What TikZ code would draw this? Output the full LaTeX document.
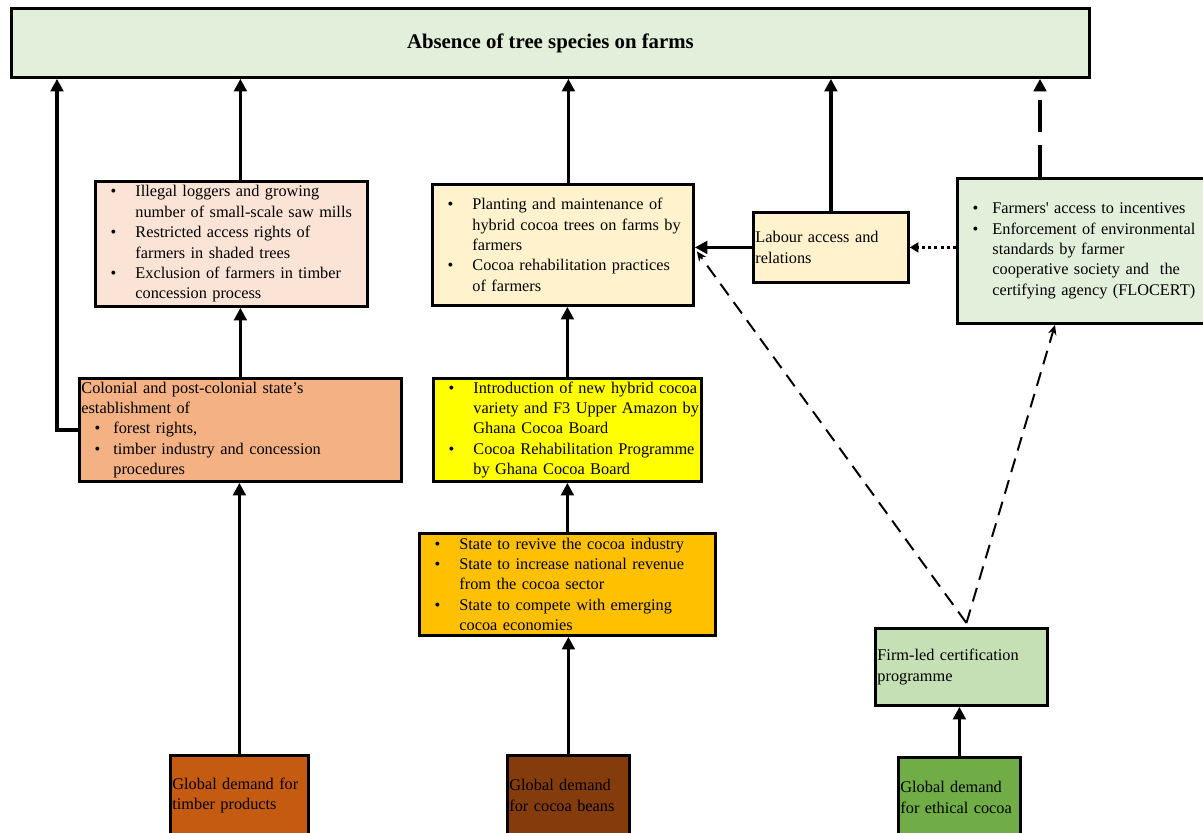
\documentclass[tikz,border=0pt]{standalone}
\usepackage{fontspec}
\setmainfont{Liberation Serif}
\usetikzlibrary{positioning, arrows.meta, calc}
\definecolor{goalgreen}{HTML}{E2EFDA}
\definecolor{timberpeach}{HTML}{FBE4D5}
\definecolor{timbersalmon}{HTML}{F4B183}
\definecolor{timberrust}{HTML}{C55A11}
\definecolor{cocoacream}{HTML}{FFF2CC}
\definecolor{cocoayellow}{HTML}{FFFF00}
\definecolor{cocoaamber}{HTML}{FFC000}
\definecolor{cocoabrown}{HTML}{843C0C}
\definecolor{certgreen}{HTML}{C5E0B4}
\definecolor{ethicgreen}{HTML}{70AD47}
% bullet line and continuation line
\newcommand{\bl}[2][0.95cm]{\makebox[#1][l]{\hspace{0.33cm}\textbullet}\mbox{#2}}
\newcommand{\cl}[2][0.95cm]{\hspace*{#1}\mbox{#2}}
\tikzset{
    box/.style={rectangle, draw=black, line width=2pt, anchor=north west, inner xsep=0.05cm, inner ysep=0pt, align=left, font=\fontsize{11.6}{14.5}\selectfont},
    arr/.style={-{Triangle[length=9pt, width=9pt]}, line width=2.6pt},
    arrdash/.style={-{Triangle[length=9pt, width=9pt]}, line width=2.6pt, dash pattern=on 23pt off 9pt},
    arrdot/.style={-{Triangle[length=6pt, width=7pt]}, line width=2.4pt, dash pattern=on 2.2pt off 2.2pt},
    arrcert/.style={-{Stealth[length=7pt, width=6pt]}, line width=1.4pt, dash pattern=on 10pt off 6pt}
}
\begin{document}
\begin{tikzpicture}
    \useasboundingbox (0,0) rectangle (30.075,-20.8);

    % Outcome
    \node[box, fill=goalgreen, minimum width=26.95cm, minimum height=1.725cm, align=center, font=\fontsize{14.8}{17}\selectfont\bfseries] (absence) at (0.25,-0.175) {Absence of tree species on farms};

    % Timber pathway
    \node[box, fill=timberpeach, minimum width=6.8cm, minimum height=3.125cm, text width=6.7cm] (loggers) at (2.35,-4.5) {%
        \bl{Illegal loggers and growing}\\
        \cl{number of small-scale saw mills}\\
        \bl{Restricted access rights of}\\
        \cl{farmers in shaded trees}\\
        \bl{Exclusion of farmers in timber}\\
        \cl{concession process}};
    \node[box, fill=timbersalmon, minimum width=8.05cm, minimum height=2.575cm, text width=7.95cm] (colonial) at (1.95,-9.425) {%
        \mbox{Colonial and post-colonial state’s}\\
        \mbox{establishment of}\\
        \bl[0.8cm]{forest rights,}\\
        \bl[0.8cm]{timber industry and concession}\\
        \cl[0.8cm]{procedures}};
    \node[box, fill=timberrust, minimum width=3.45cm, minimum height=2cm, text width=3.35cm] (timberdemand) at (4.225,-18.85) {Global demand for\\timber products};

    % Cocoa pathway
    \node[box, fill=cocoacream, minimum width=6.525cm, minimum height=3.025cm, text width=6.425cm] (planting) at (10.775,-4.575) {%
        \bl{Planting and maintenance of}\\
        \cl{hybrid cocoa trees on farms by}\\
        \cl{farmers}\\
        \bl{Cocoa rehabilitation practices}\\
        \cl{of farmers}};
    \node[box, fill=cocoayellow, minimum width=6.7cm, minimum height=2.575cm, text width=6.6cm] (intro) at (10.8,-9.425) {%
        \bl{Introduction of new hybrid cocoa}\\
        \cl{variety and F3 Upper Amazon by}\\
        \cl{Ghana Cocoa Board}\\
        \bl{Cocoa Rehabilitation Programme}\\
        \cl{by Ghana Cocoa Board}};
    \node[box, fill=cocoaamber, minimum width=7.4cm, minimum height=2.55cm, text width=7.3cm] (statebox) at (10.45,-13.3) {%
        \bl{State to revive the cocoa industry}\\
        \bl{State to increase national revenue}\\
        \cl{from the cocoa sector}\\
        \bl{State to compete with emerging}\\
        \cl{cocoa economies}};
    \node[box, fill=cocoabrown, minimum width=3.05cm, minimum height=2cm, text width=2.95cm] (cocoademand) at (12.65,-18.85) {Global demand\\for cocoa beans};

    % Certification pathway
    \node[box, fill=cocoacream, minimum width=3.875cm, minimum height=1.75cm, text width=3.775cm] (labour) at (18.8,-5.275) {Labour access and\\relations};
    \node[box, fill=goalgreen, minimum width=6.175cm, minimum height=3.625cm, text width=6.075cm] (incent) at (23.9,-4.425) {%
        \bl[0.825cm]{Farmers\textquotesingle{} access to incentives}\\
        \bl[0.825cm]{Enforcement of environmental}\\
        \cl[0.825cm]{standards by farmer}\\
        \cl[0.825cm]{cooperative society and \ the}\\
        \cl[0.825cm]{certifying agency (FLOCERT)}};
    \node[box, fill=certgreen, minimum width=4.3cm, minimum height=1.925cm, text width=4.2cm] (firm) at (21.85,-15.675) {Firm-led certification\\programme};
    \node[box, fill=ethicgreen, minimum width=3.05cm, minimum height=2cm, text width=2.95cm] (ethicdemand) at (22.425,-18.9) {Global demand\\for ethical cocoa};

    % Connectors
    \coordinate (leftin) at ($(absence.south west)+(1.175,0)$);
    \coordinate (dashout) at ($(incent.north west)+(2.1,0)$);
    \coordinate (firmtop) at ($(firm.north)+(0.125,0.1)$);
    \coordinate (plantin) at ($(planting.east)+(0.05,-0.16)$);
    \coordinate (incentin) at ($(incent.south west)+(2.475,0)$);

    \draw[arr] (colonial.west) -| (leftin);
    \draw[arr] (colonial.north |- loggers.north) -- (colonial.north |- absence.south);
    \draw[arr] (colonial.north) -- (colonial.north |- loggers.south);
    \draw[arr] (timberdemand.north) -- (timberdemand.north |- colonial.south);

    \draw[arr] (cocoademand.north |- planting.north) -- (cocoademand.north |- absence.south);
    \draw[arr] (intro.north) -- (intro.north |- planting.south);
    \draw[arr] (statebox.north) -- (statebox.north |- intro.south);
    \draw[arr] (cocoademand.north) -- (cocoademand.north |- statebox.south);

    \draw[arr] (labour.north) -- (labour.north |- absence.south);
    \draw[arr] (labour.west) -- (labour.west -| planting.east);
    \draw[arrdot] (incent.west |- labour.east) -- (labour.east);
    \draw[arrdash] (dashout) -- (dashout |- absence.south);
    \draw[arrcert] (firmtop) -- (plantin);
    \draw[arrcert] (firmtop) -- (incentin);
    \draw[arr] (ethicdemand.north) -- (ethicdemand.north |- firm.south);
\end{tikzpicture}
\end{document}
